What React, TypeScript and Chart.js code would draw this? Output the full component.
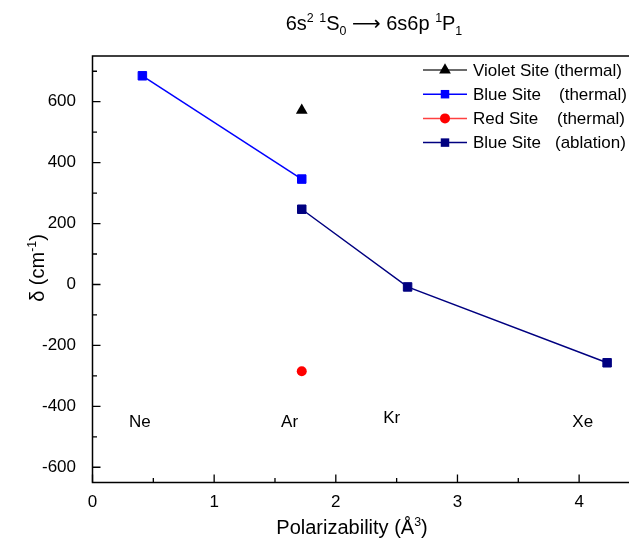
import React, { useEffect, useRef } from 'react';
import { Chart, registerables } from 'chart.js';

Chart.register(...registerables);

// ---- data ----
const blueThermalX = [0.41, 1.72];
const blueThermalY = [685, 346];
const violetX = [1.72];
const violetY = [572];
const redX = [1.72];
const redY = [-285];
const ablationX = [1.72, 2.59, 4.23];
const ablationY = [247, -8, -257];

const elementNames = ['Ne', 'Ar', 'Kr', 'Xe'];
const elementX = [0.39, 1.62, 2.46, 4.03];
const elementY = [-452, -452, -440, -452];

const xTicks = [0, 1, 2, 3, 4];
const xMinorTicks = [0.5, 1.5, 2.5, 3.5];
const yTicks = [-600, -400, -200, 0, 200, 400, 600];
const yMinorTicks = [-500, -300, -100, 100, 300, 500, 700];

const legendNames = ['Violet Site', 'Blue Site', 'Red Site', 'Blue Site'];
const legendNotes = ['(thermal)', '(thermal)', '(thermal)', '(ablation)'];

const FONT = '"Liberation Sans", Arial, "DejaVu Sans", sans-serif';

type Seg = { t: string; s?: number; dy?: number };

function drawRich(ctx: CanvasRenderingContext2D, segs: Seg[], x: number, y: number, size: number, align: 'center' | 'left') {
  let total = 0;
  const widths = segs.map((sg) => {
    ctx.font = `${size * (sg.s ?? 1)}px ${FONT}`;
    const w = ctx.measureText(sg.t).width;
    total += w;
    return w;
  });
  let cx = align === 'center' ? x - total / 2 : x;
  ctx.textAlign = 'left';
  ctx.textBaseline = 'alphabetic';
  segs.forEach((sg, i) => {
    ctx.font = `${size * (sg.s ?? 1)}px ${FONT}`;
    ctx.fillText(sg.t, cx, y + (sg.dy ?? 0));
    cx += widths[i];
  });
}

function drawMarker(ctx: CanvasRenderingContext2D, style: string, x: number, y: number, r: number, color: string) {
  ctx.fillStyle = color;
  ctx.beginPath();
  if (style === 'rect') {
    const h = r / Math.SQRT2;
    ctx.rect(x - h, y - h, 2 * h, 2 * h);
  } else if (style === 'triangle') {
    ctx.moveTo(x, y - r);
    ctx.lineTo(x + r * Math.sin(Math.PI * 2 / 3), y - r * Math.cos(Math.PI * 2 / 3));
    ctx.lineTo(x + r * Math.sin(Math.PI * 4 / 3), y - r * Math.cos(Math.PI * 4 / 3));
    ctx.closePath();
  } else {
    ctx.arc(x, y, r, 0, Math.PI * 2);
  }
  ctx.fill();
}

const decorPlugin = {
  id: 'decor',
  afterDraw(chart: any) {
    const ctx: CanvasRenderingContext2D = chart.ctx;
    const { left, right, top, bottom } = chart.chartArea;
    const xs = chart.scales.x;
    const ys = chart.scales.y;
    ctx.save();
    // frame
    ctx.strokeStyle = '#000';
    ctx.lineWidth = 1.5;
    ctx.beginPath();
    ctx.moveTo(right + 2, top);
    ctx.lineTo(left, top);
    ctx.lineTo(left, bottom);
    ctx.lineTo(right + 2, bottom);
    ctx.stroke();
    // inward ticks
    ctx.lineWidth = 1.3;
    ctx.beginPath();
    xTicks.forEach((v) => {
      const p = xs.getPixelForValue(v);
      ctx.moveTo(p, bottom);
      ctx.lineTo(p, bottom - 8);
    });
    xMinorTicks.forEach((v) => {
      const p = xs.getPixelForValue(v);
      ctx.moveTo(p, bottom);
      ctx.lineTo(p, bottom - 4.5);
    });
    yTicks.forEach((v) => {
      const p = ys.getPixelForValue(v);
      ctx.moveTo(left, p);
      ctx.lineTo(left + 8, p);
    });
    yMinorTicks.forEach((v) => {
      const p = ys.getPixelForValue(v);
      ctx.moveTo(left, p);
      ctx.lineTo(left + 4.5, p);
    });
    ctx.stroke();

    // element labels
    ctx.fillStyle = '#000';
    ctx.font = `17px ${FONT}`;
    ctx.textAlign = 'center';
    ctx.textBaseline = 'middle';
    elementNames.forEach((n, i) => {
      ctx.fillText(n, xs.getPixelForValue(elementX[i]), ys.getPixelForValue(elementY[i]));
    });

    // legend
    const ds = chart.data.datasets;
    const noteX = [554, 559, 557, 555];
    const lineColors = ['#3a3a3a', '#0000FF', '#FF4040', '#000080'];
    ds.forEach((d: any, i: number) => {
      const yy = 70 + i * 24.2;
      ctx.strokeStyle = lineColors[i];
      ctx.lineWidth = 1.5;
      ctx.beginPath();
      ctx.moveTo(423, yy);
      ctx.lineTo(467, yy);
      ctx.stroke();
      drawMarker(ctx, d.pointStyle, 445, yy, d.pointRadius, d.pointBackgroundColor);
      ctx.fillStyle = '#000';
      ctx.font = `17px ${FONT}`;
      ctx.textAlign = 'left';
      ctx.textBaseline = 'middle';
      ctx.fillText(legendNames[i], 473, yy + 1);
      ctx.fillText(legendNotes[i], noteX[i], yy + 1);
    });

    // title
    ctx.fillStyle = '#000';
    drawRich(ctx, [
      { t: '6s' }, { t: '2', s: 0.62, dy: -8 }, { t: ' ' }, { t: '1', s: 0.62, dy: -8 }, { t: 'S' },
      { t: '0', s: 0.62, dy: 5 }, { t: ' \u27F6 6s6p ' }, { t: '1', s: 0.62, dy: -8 }, { t: 'P' }, { t: '1', s: 0.62, dy: 5 },
    ], 374, 29.5, 20, 'center');

    // x title
    drawRich(ctx, [{ t: 'Polarizability (\u00C5' }, { t: '3', s: 0.62, dy: -8 }, { t: ')' }], 352, 534, 20, 'center');

    // y title
    ctx.save();
    ctx.translate(44, 268);
    ctx.rotate(-Math.PI / 2);
    drawRich(ctx, [{ t: '\u03B4 (cm' }, { t: '-1', s: 0.62, dy: -8 }, { t: ')' }], 0, 0, 20, 'center');
    ctx.restore();

    ctx.restore();
  },
};

export default function App() {
  const ref = useRef<HTMLCanvasElement>(null);
  useEffect(() => {
    document.body.style.margin = '0';
    const canvas = ref.current!;
    const tickFont = { family: FONT, size: 17 };
    const chart = new Chart(canvas, {
      type: 'scatter',
      data: {
        datasets: [
          {
            label: 'Violet Site (thermal)',
            data: violetX.map((x, i) => ({ x, y: violetY[i] })),
            showLine: false,
            pointStyle: 'triangle',
            pointRadius: 6.8,
            pointBackgroundColor: '#000000',
            pointBorderColor: '#000000',
            pointBorderWidth: 0,
          } as any,
          {
            label: 'Blue Site (thermal)',
            data: blueThermalX.map((x, i) => ({ x, y: blueThermalY[i] })),
            showLine: true,
            borderColor: '#0000FF',
            borderWidth: 1.5,
            pointStyle: 'rect',
            pointRadius: 6,
            pointBackgroundColor: '#0000FF',
            pointBorderColor: '#0000FF',
            pointBorderWidth: 1,
          },
          {
            label: 'Red Site (thermal)',
            data: redX.map((x, i) => ({ x, y: redY[i] })),
            showLine: false,
            pointStyle: 'circle',
            pointRadius: 5,
            pointBackgroundColor: '#FF0000',
            pointBorderColor: '#FF0000',
            pointBorderWidth: 0,
          },
          {
            label: 'Blue Site (ablation)',
            data: ablationX.map((x, i) => ({ x, y: ablationY[i] })),
            showLine: true,
            borderColor: '#000080',
            borderWidth: 1.5,
            pointStyle: 'rect',
            pointRadius: 6,
            pointBackgroundColor: '#000080',
            pointBorderColor: '#000080',
            pointBorderWidth: 1,
          },
        ],
      },
      options: {
        responsive: false,
        animation: false,
        events: [],
        layout: { autoPadding: false, padding: { top: 56, right: 0, bottom: 0, left: 0 } },
        plugins: { legend: { display: false }, tooltip: { enabled: false }, title: { display: false } },
        scales: {
          x: {
            type: 'linear',
            min: 0,
            max: 4.41,
            afterBuildTicks: (s: any) => { s.ticks = xTicks.map((v) => ({ value: v })); },
            afterFit: (s: any) => { s.height = 63.5; s.paddingLeft = 0; s.paddingRight = 0; },
            ticks: { font: tickFont, color: '#000', padding: 2, maxRotation: 0, autoSkip: false, includeBounds: false },
            grid: { display: false },
            border: { display: false },
          },
          y: {
            type: 'linear',
            min: -650,
            max: 750,
            afterBuildTicks: (s: any) => { s.ticks = yTicks.map((v) => ({ value: v })); },
            afterFit: (s: any) => { s.width = 92.5; s.paddingTop = 0; s.paddingBottom = 0; },
            ticks: { font: tickFont, color: '#000', padding: 8.5, autoSkip: false, includeBounds: false },
            grid: { display: false },
            border: { display: false },
          },
        },
      },
      plugins: [decorPlugin],
    });
    return () => chart.destroy();
  }, []);
  return <canvas ref={ref} width={629} height={546} style={{ display: 'block' }} />;
}
